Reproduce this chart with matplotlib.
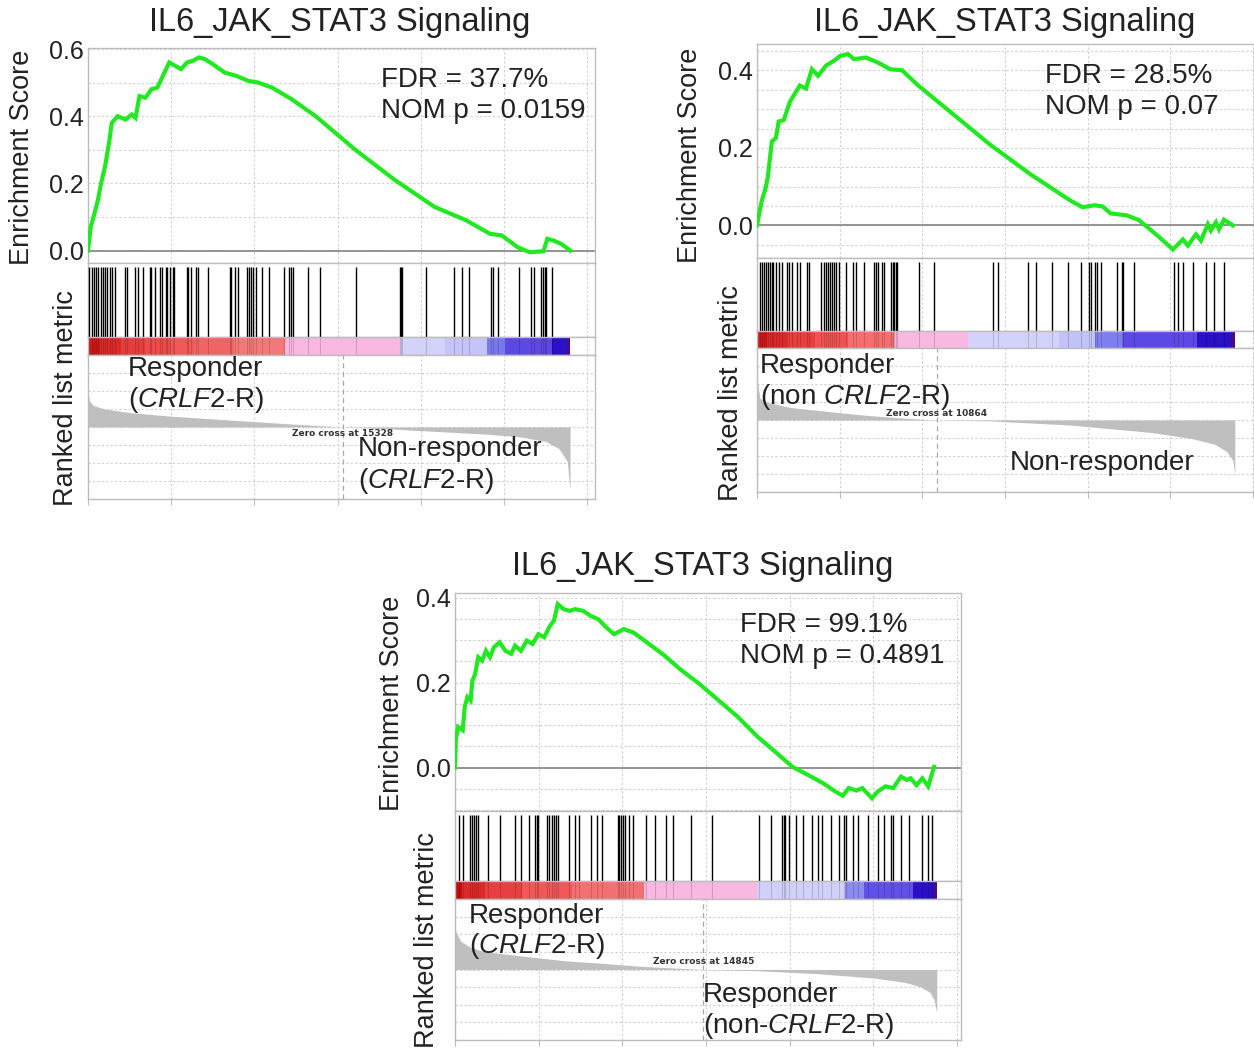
import numpy as np
import matplotlib
matplotlib.use("Agg")
import matplotlib.pyplot as plt

plt.rcParams['font.family'] = ['Liberation Sans', 'DejaVu Sans']
plt.rcParams['mathtext.fontset'] = 'custom'
plt.rcParams['mathtext.rm'] = 'Liberation Sans'
plt.rcParams['mathtext.it'] = 'Liberation Sans:italic'

W, H = 1254, 1053
TXT = '#222222'
GREEN = '#22e822'
GRID = '#cfcfcf'
FRAME = '#bdbdbd'

# -----------------------------
# Panel 1 (top left)
# -----------------------------
p1_es_x = [0, 167, 357, 595, 785, 1023, 1261, 1428, 1785, 2261, 2618, 2856, 3094, 3451,
           3808, 4165, 4403, 4879, 5236, 5593, 5950, 6307, 6664, 7021, 7497, 8211, 8925,
           9639, 10234, 11067, 12257, 13685, 16065, 18445, 20825, 22729, 24157, 24871,
           25823, 26537, 27370, 27608, 27965, 28441, 28988]
p1_es_y = [0.0, 0.07, 0.105, 0.15, 0.2, 0.25, 0.32, 0.38, 0.40, 0.39, 0.405, 0.395, 0.46,
           0.455, 0.48, 0.485, 0.51, 0.56, 0.55, 0.54, 0.56, 0.565, 0.575, 0.57, 0.555,
           0.53, 0.52, 0.505, 0.50, 0.485, 0.45, 0.40, 0.30, 0.21, 0.13, 0.09, 0.05, 0.045,
           0.01, -0.005, -0.002, 0.035, 0.03, 0.02, 0.0]
p1_hits = [80, 220, 360, 480, 620, 760, 880, 1020, 1160, 1320, 1420, 1620, 2220, 2320, 2820,
           3020, 3320, 3720, 3780, 4020, 4320, 4420, 4680, 4760, 4920, 5080, 5160, 5920, 6020,
           6220, 6480, 6620, 7220, 8520, 8620, 8820, 9020, 9560, 9680, 9820, 9920, 10120,
           10480, 10880, 11760, 12080, 12220, 12320, 13220, 13920, 16080, 18760, 18820, 18880,
           20320, 22020, 22480, 22880, 24220, 24320, 24620, 25920, 26620, 26820, 27220, 27320,
           27460, 27520, 27880]
p1_rank_x = [0, 100, 300, 1000, 2500, 5000, 7500, 10000, 12500, 15328, 18000, 21000, 24000,
             26000, 27500, 28300, 28800, 28970]
p1_rank_y = [1.85, 1.45, 1.2, 1.0, 0.8, 0.6, 0.45, 0.3, 0.15, 0.0, -0.1, -0.25, -0.4, -0.55,
             -0.8, -1.2, -1.9, -3.5]
p1_cbar_edges = [0, 700, 2000, 3400, 5000, 6400, 8800, 11840, 18750, 21460, 23980, 25060,
                 27890, 28800, 28970]
p1_cbar_colors = ['#d01818', '#dc2a2a', '#e63c3c', '#ee4a4a', '#f25858', '#f26464', '#f47878',
                  '#f8b8e0', '#d2d2fa', '#c4c4f8', '#7878ee', '#5c48e4', '#2a10c6', '#4a0a80']

# -----------------------------
# Panel 2 (top right)
# -----------------------------
p2_es_x = [0, 170, 290, 530, 650, 900, 1140, 1310, 1620, 1990, 2350, 2590, 2960, 3320, 3690,
           4170, 4660, 5020, 5500, 5870, 6600, 7320, 8050, 8780, 9750, 11690, 14110, 16540,
           18960, 19690, 20420, 20900, 21390, 22360, 23090, 23570, 24300, 25150, 25760, 26060,
           26550, 26850, 27270, 27450, 27760, 27940, 28240, 28790]
p2_es_y = [0.0, 0.039, 0.064, 0.098, 0.124, 0.217, 0.225, 0.268, 0.272, 0.319, 0.344, 0.361,
           0.353, 0.403, 0.386, 0.412, 0.425, 0.437, 0.442, 0.429, 0.433, 0.42, 0.403, 0.40,
           0.361, 0.293, 0.208, 0.132, 0.064, 0.047, 0.052, 0.049, 0.031, 0.026, 0.014, -0.003,
           -0.029, -0.062, -0.036, -0.052, -0.023, -0.039, 0.003, -0.013, 0.008, -0.01, 0.015, 0.0]
p2_hits = [170, 290, 410, 530, 650, 780, 900, 970, 1140, 1310, 1500, 1820, 1940, 2110, 2430,
           2590, 3010, 3150, 3880, 4050, 4170, 4290, 4410, 4540, 4660, 4780, 4950, 5380, 5820,
           5990, 6480, 7080, 7200, 7320, 7570, 7690, 8100, 8200, 8290, 8390, 8490, 9800, 10720,
           14300, 14550, 16420, 16900, 17870, 18840, 19570, 20060, 20180, 20420, 20540, 20790,
           21760, 22060, 22120, 22790, 25210, 25450, 25760, 26360, 27150, 27640, 28240]
p2_rank_x = [0, 50, 170, 780, 1990, 4410, 6840, 9260, 10864, 14110, 18960, 23810, 26240, 27690,
             28420, 28780, 28900]
p2_rank_y = [2.68, 2.0, 1.2, 0.95, 0.7, 0.46, 0.24, 0.08, 0.0, -0.05, -0.28, -0.69, -1.02,
             -1.35, -1.76, -2.26, -3.0]
p2_cbar_edges = [0, 600, 1800, 3500, 5500, 8290, 12780, 18240, 20420, 22120, 26600, 28660, 28900]
p2_cbar_colors = ['#d01818', '#dc2a2a', '#e83e3e', '#f05252', '#f46e6e', '#f8b8e0', '#d2d2fa',
                  '#c2c2f8', '#7e7eef', '#5c48e4', '#2a10c6', '#4a0a80']

# -----------------------------
# Panel 3 (bottom)
# -----------------------------
p3_es_x = [0, 50, 185, 460, 580, 740, 930, 1040, 1200, 1390, 1620, 1850, 2090, 2320, 2660,
           3010, 3360, 3590, 3940, 4290, 4630, 4980, 5330, 5680, 5910, 6140, 6490, 6840, 7180,
           7650, 8110, 8570, 9040, 9500, 10080, 10660, 11590, 12510, 13440, 14600, 15760, 16910,
           18070, 19230, 20160, 21080, 22010, 22710, 23170, 23520, 23980, 24330, 24910, 25260,
           25720, 26180, 26650, 27000, 27220, 27570, 27920, 28270, 28620]
p3_es_y = [0.0, 0.065, 0.096, 0.088, 0.143, 0.166, 0.158, 0.205, 0.22, 0.26, 0.252, 0.275,
           0.26, 0.283, 0.295, 0.275, 0.268, 0.287, 0.275, 0.299, 0.291, 0.314, 0.307, 0.334,
           0.346, 0.385, 0.373, 0.369, 0.373, 0.369, 0.357, 0.349, 0.33, 0.314, 0.326, 0.318,
           0.291, 0.264, 0.232, 0.197, 0.158, 0.119, 0.073, 0.034, 0.002, -0.017, -0.037,
           -0.056, -0.066, -0.048, -0.054, -0.048, -0.072, -0.056, -0.044, -0.048, -0.021,
           -0.029, -0.025, -0.041, -0.025, -0.044, 0.002]
p3_hits = [230, 460, 880, 1040, 1160, 1270, 1390, 1970, 2660, 3590, 3940, 4400, 4750, 4870,
           4980, 5510, 5610, 5790, 5910, 6020, 6140, 6840, 7180, 7410, 8110, 8460, 8800, 9730,
           9800, 9920, 10010, 10150, 10380, 10660, 11400, 11930, 12630, 13020, 14090, 15340,
           18140, 18880, 19530, 19650, 19740, 19930, 20390, 20810, 21320, 21660, 21900, 22470,
           22940, 23220, 23360, 23750, 24100, 24680, 25260, 25600, 26070, 26180, 26650, 27110,
           27920, 28270, 28500]
p3_rank_x = [0, 50, 350, 930, 1850, 4170, 6490, 8800, 11120, 14845, 18070, 21550, 25020, 26880,
             27800, 28380, 28610, 28780]
p3_rank_y = [2.6, 2.15, 1.6, 1.25, 1.0, 0.75, 0.5, 0.35, 0.18, 0.0, -0.07, -0.23, -0.48, -0.73,
             -0.98, -1.3, -1.7, -2.45]
p3_cbar_edges = [0, 400, 1800, 4000, 7000, 11310, 18030, 23290, 24440, 27340, 28620, 28780]
p3_cbar_colors = ['#c80c0c', '#dc2a2a', '#e84040', '#f05858', '#f47070', '#f8b8e0', '#d0d0fa',
                  '#8a8af2', '#6050e8', '#2a10c6', '#4a0a80']

title = 'IL6_JAK_STAT3 Signaling'


def rect(left, top, right, bottom):
    return [left / W, 1 - bottom / H, (right - left) / W, (bottom - top) / H]


def style(ax, xmax):
    ax.set_xlim(0, xmax)
    ax.set_xticks(np.arange(0, xmax, 5000))
    ax.tick_params(labelbottom=False, labelleft=False, length=0)
    for s in ax.spines.values():
        s.set_color(FRAME)
        s.set_linewidth(1.0)
    ax.grid(True, which='both', ls=(0, (2, 2)), color=GRID, lw=0.8)
    ax.set_axisbelow(True)


def draw_panel(fig, L, R, ys, xmax, es_lim, es_ticks, es_grid, es_x, es_y, hits,
               rk_x, rk_y, rk_lim, edges, colors, zero_x, zero_dy):
    top, es_b, hit_b, cb_b, bot = ys
    ax1 = fig.add_axes(rect(L, top, R, es_b))
    ax2 = fig.add_axes(rect(L, es_b, R, hit_b))
    ax3 = fig.add_axes(rect(L, hit_b, R, cb_b))
    ax4 = fig.add_axes(rect(L, cb_b, R, bot))

    # enrichment score
    style(ax1, xmax)
    ax1.set_ylim(*es_lim)
    ax1.set_yticks(es_ticks)
    ax1.set_yticklabels(['%.1f' % t for t in es_ticks])
    ax1.set_yticks(es_grid, minor=True)
    ax1.tick_params(axis='y', which='both', labelleft=True, labelsize=18, pad=3,
                    colors=TXT, length=0)
    ax1.axhline(0, color='#8c8c8c', lw=1.3, zorder=2)
    ax1.plot(es_x, es_y, color=GREEN, lw=3.0, solid_joinstyle='miter', zorder=3)

    # hits
    style(ax2, xmax)
    ax2.set_ylim(0, 1)
    ax2.set_yticks([])
    ax2.vlines(hits, 0, 0.95, color='black', lw=1.0, zorder=3)

    # colour bar
    style(ax3, xmax)
    ax3.set_ylim(0, 1)
    ax3.set_yticks([])
    for a, b, c in zip(edges[:-1], edges[1:], colors):
        ax3.axvspan(a, b, color=c, lw=0, zorder=1)
    ax3.vlines(hits, 0, 1, color='black', lw=0.8, alpha=0.15, zorder=2)

    # ranked list metric
    style(ax4, xmax)
    ax4.set_ylim(*rk_lim)
    ax4.set_yticks(np.arange(-4, 5, 1.0))
    ax4.fill_between(rk_x, rk_y, 0, color='#bfbfbf', lw=0, zorder=2)
    ax4.axvline(zero_x, color='#a8a8a8', lw=0.9, ls=(0, (4, 3)), zorder=1)
    ax4.tick_params(axis='x', length=4, color=FRAME, direction='out')
    ax4.annotate('Zero cross at %d' % zero_x, (zero_x, 0), xytext=(0, zero_dy),
                 textcoords='offset pixels', ha='center', va='center', fontsize=6.5,
                 family='DejaVu Sans', fontweight='bold', color='#333333', zorder=4)
    return ax1, ax4


fig = plt.figure(figsize=(W / 100, H / 100), dpi=100)

# panel 1
draw_panel(fig, 88, 595, (48, 263, 337, 355, 499), 30470, (-0.037, 0.603),
           [0.0, 0.2, 0.4, 0.6], np.arange(0, 0.61, 0.1), p1_es_x, p1_es_y, p1_hits,
           p1_rank_x, p1_rank_y, (-3.85, 3.35), p1_cbar_edges, p1_cbar_colors, 15328, -6)

# panel 2
draw_panel(fig, 757, 1254, (44, 258, 331, 348, 492), 30060, (-0.084, 0.468),
           [0.0, 0.2, 0.4], np.arange(-0.05, 0.47, 0.05), p2_es_x, p2_es_y, p2_hits,
           p2_rank_x, p2_rank_y, (-3.34, 3.87), p2_cbar_edges, p2_cbar_colors, 10864, 6)

# panel 3
draw_panel(fig, 455, 961, (593, 811, 881, 899, 1040), 30230, (-0.102, 0.411),
           [0.0, 0.2, 0.4], np.arange(-0.1, 0.41, 0.05), p3_es_x, p3_es_y, p3_hits,
           p3_rank_x, p3_rank_y, (-3.05, 4.0), p3_cbar_edges, p3_cbar_colors, 14845, 8)


def ftext(x, y, s, **kw):
    kw.setdefault('color', TXT)
    fig.text(x / W, 1 - y / H, s, **kw)


# titles
ftext(340, 22, title, ha='center', va='center', fontsize=23.5)
ftext(1005, 22, title, ha='center', va='center', fontsize=23.5)
ftext(703, 567, title, ha='center', va='center', fontsize=23.5)

# axis labels
for x, y in [(22, 157), (690, 155), (392, 703)]:
    ftext(x, y, 'Enrichment Score', rotation=90, ha='center', va='center', fontsize=19.5)
for x, y in [(66, 398), (731, 393), (427, 940)]:
    ftext(x, y, 'Ranked list metric', rotation=90, ha='center', va='center', fontsize=19.5)

# statistics
ftext(381, 80, 'FDR = 37.7%', ha='left', va='center', fontsize=20)
ftext(381, 111, 'NOM p = 0.0159', ha='left', va='center', fontsize=20)
ftext(1045, 76, 'FDR = 28.5%', ha='left', va='center', fontsize=20)
ftext(1045, 107, 'NOM p = 0.07', ha='left', va='center', fontsize=20)
ftext(740, 625, 'FDR = 99.1%', ha='left', va='center', fontsize=20)
ftext(740, 656, 'NOM p = 0.4891', ha='left', va='center', fontsize=20)

# group labels
crlf = r'$\mathit{CRLF2}$'
ftext(128, 369, 'Responder', ha='left', va='center', fontsize=20)
ftext(128, 400, '(' + crlf + '-R)', ha='left', va='center', fontsize=20)
ftext(358, 449, 'Non-responder', ha='left', va='center', fontsize=20)
ftext(358, 481, '(' + crlf + '-R)', ha='left', va='center', fontsize=20)

ftext(760, 366, 'Responder', ha='left', va='center', fontsize=20)
ftext(760, 397, '(non ' + crlf + '-R)', ha='left', va='center', fontsize=20)
ftext(1010, 463, 'Non-responder', ha='left', va='center', fontsize=20)

ftext(469, 916, 'Responder', ha='left', va='center', fontsize=20)
ftext(469, 946, '(' + crlf + '-R)', ha='left', va='center', fontsize=20)
ftext(703, 995, 'Responder', ha='left', va='center', fontsize=20)
ftext(703, 1026, '(non-' + crlf + '-R)', ha='left', va='center', fontsize=20)

fig.savefig('out.png', dpi=100)
